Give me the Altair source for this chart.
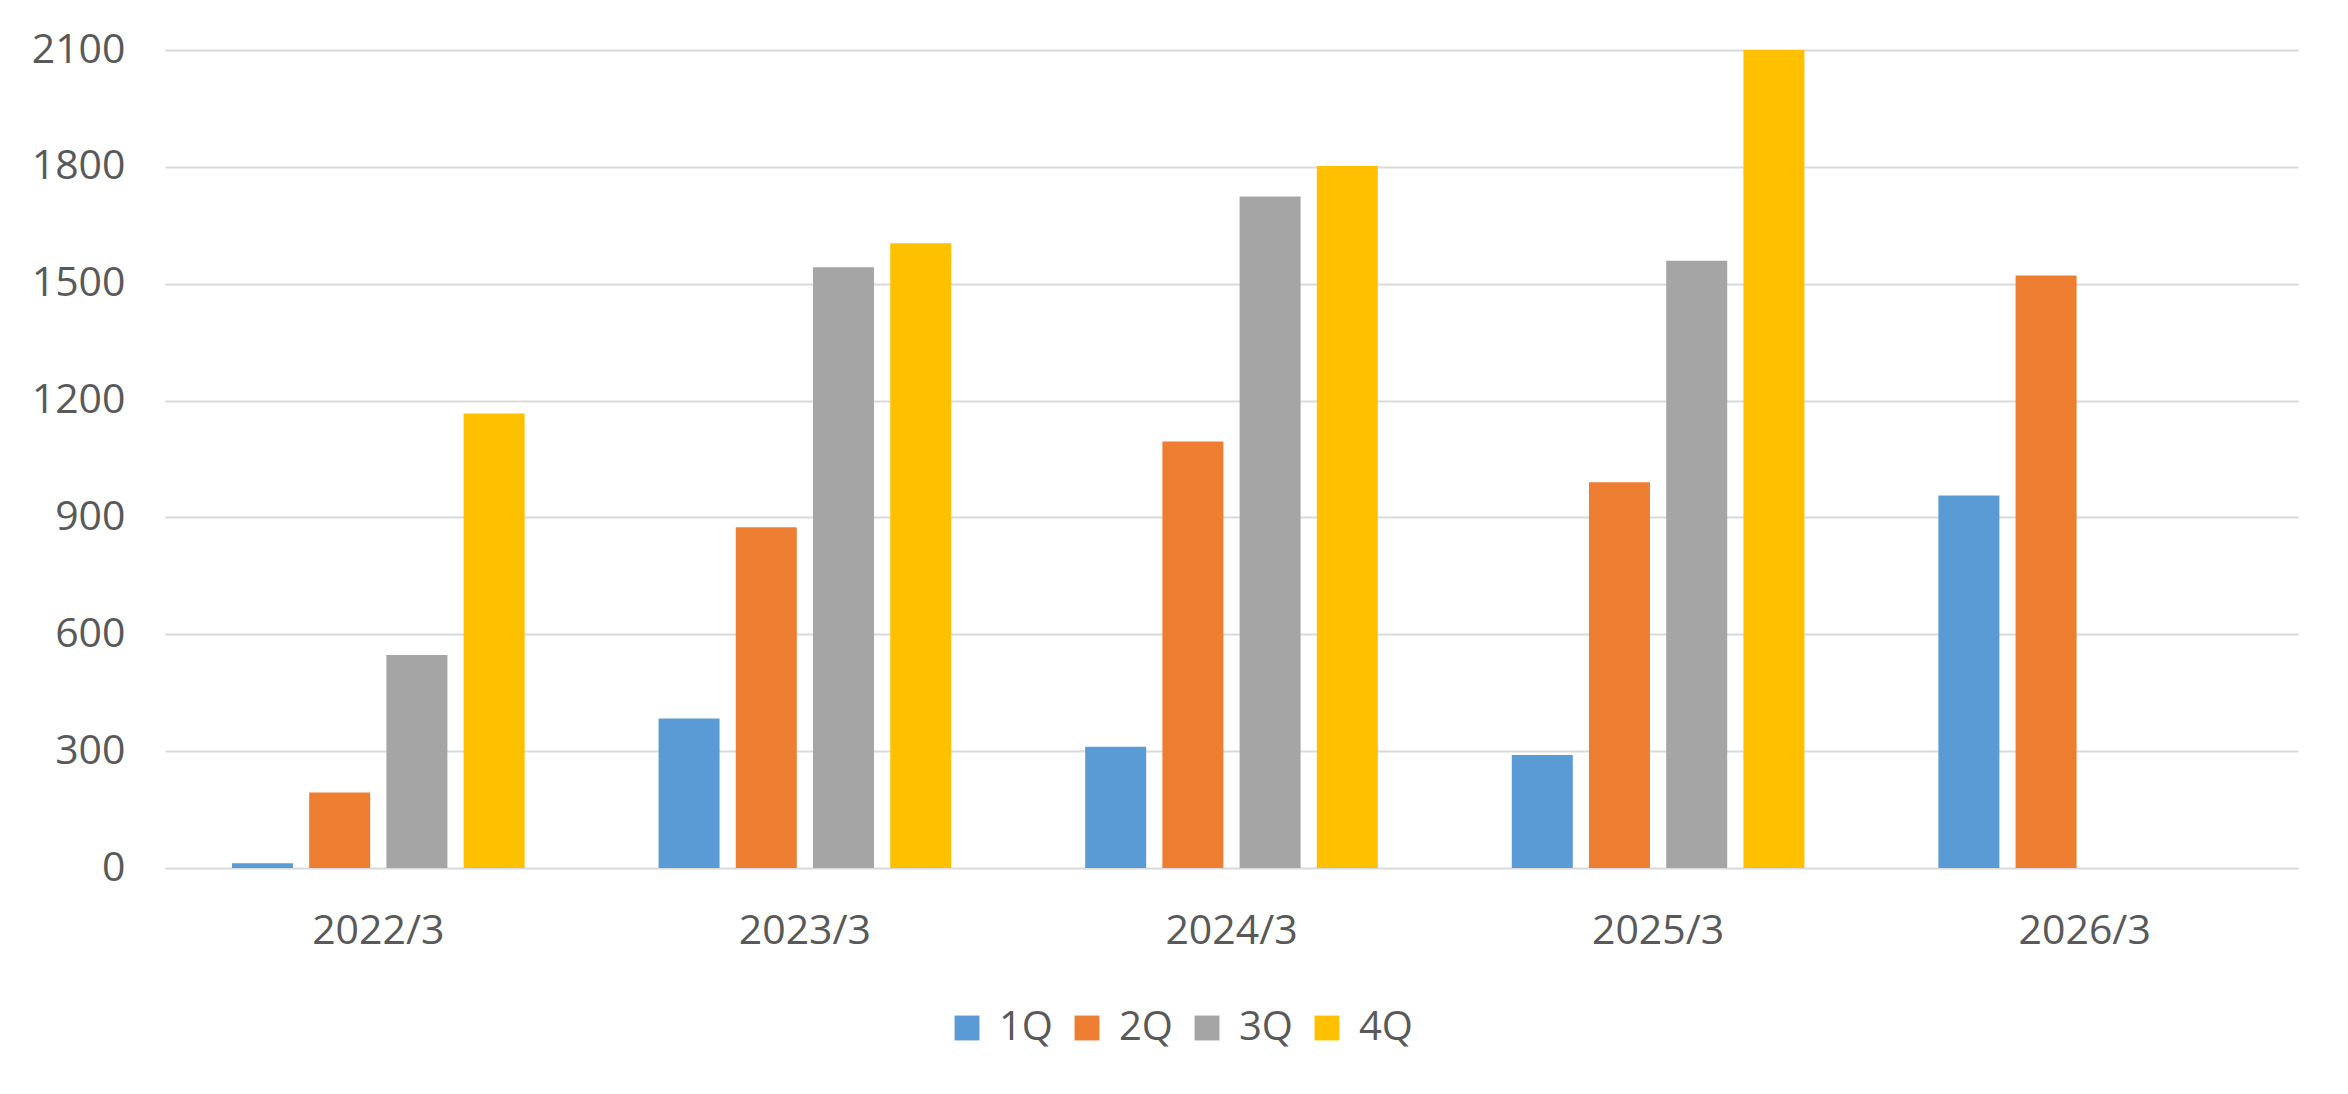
import altair as alt
import pandas as pd

periods = ["2022/3", "2023/3", "2024/3", "2025/3", "2026/3"]
quarters = ["1Q", "2Q", "3Q", "4Q"]
colors = ["#5B9BD5", "#ED7D31", "#A5A5A5", "#FFC000"]

q1 = [12, 384, 311, 290, 956]
q2 = [194, 875, 1095, 990, 1521]
q3 = [547, 1542, 1724, 1559, None]
q4 = [1167, 1604, 1802, 2100, None]

rows = []
for series, q in zip([q1, q2, q3, q4], quarters):
    for p, v in zip(periods, series):
        if v is not None:
            rows.append({"period": p, "quarter": q, "value": v})
df = pd.DataFrame(rows)

FONT = "Open Sans"
TXT = "#595959"

chart = alt.Chart(df).mark_bar().encode(
    x=alt.X("period:N", sort=periods,
            scale=alt.Scale(paddingInner=0.276, paddingOuter=0.138),
            axis=alt.Axis(title=None, labelAngle=0, labelFont=FONT, labelFontSize=41,
                          labelColor=TXT, labelPadding=43, ticks=False, domain=False,
                          grid=False)),
    xOffset=alt.XOffset("quarter:N", sort=quarters,
                        scale=alt.Scale(paddingInner=0.21, paddingOuter=0.105)),
    y=alt.Y("value:Q",
            scale=alt.Scale(domain=[0, 2100], nice=False),
            axis=alt.Axis(title=None, values=list(range(0, 2101, 300)), format="d",
                          labelFont=FONT, labelFontSize=41, labelColor=TXT,
                          labelPadding=40, ticks=False, domain=False,
                          gridColor="#D9D9D9", gridWidth=2)),
    color=alt.Color("quarter:N", sort=quarters,
                    scale=alt.Scale(domain=quarters, range=colors),
                    legend=alt.Legend(title=None, orient="none", direction="horizontal",
                                      legendX=782, legendY=958, columns=4,
                                      symbolType="square", symbolSize=620,
                                      symbolStrokeWidth=0, symbolOffset=0,
                                      labelFont=FONT, labelFontSize=40, labelColor=TXT,
                                      labelOffset=12, columnPadding=14, padding=0)),
).properties(
    width=2133,
    height=818,
    background="white",
    autosize=alt.AutoSizeParams(type="none"),
    padding={"left": 157, "top": 42, "right": 42, "bottom": 218},
).configure_view(stroke=None)

chart.save("out.html", embed_options={"renderer": "svg", "actions": False})
